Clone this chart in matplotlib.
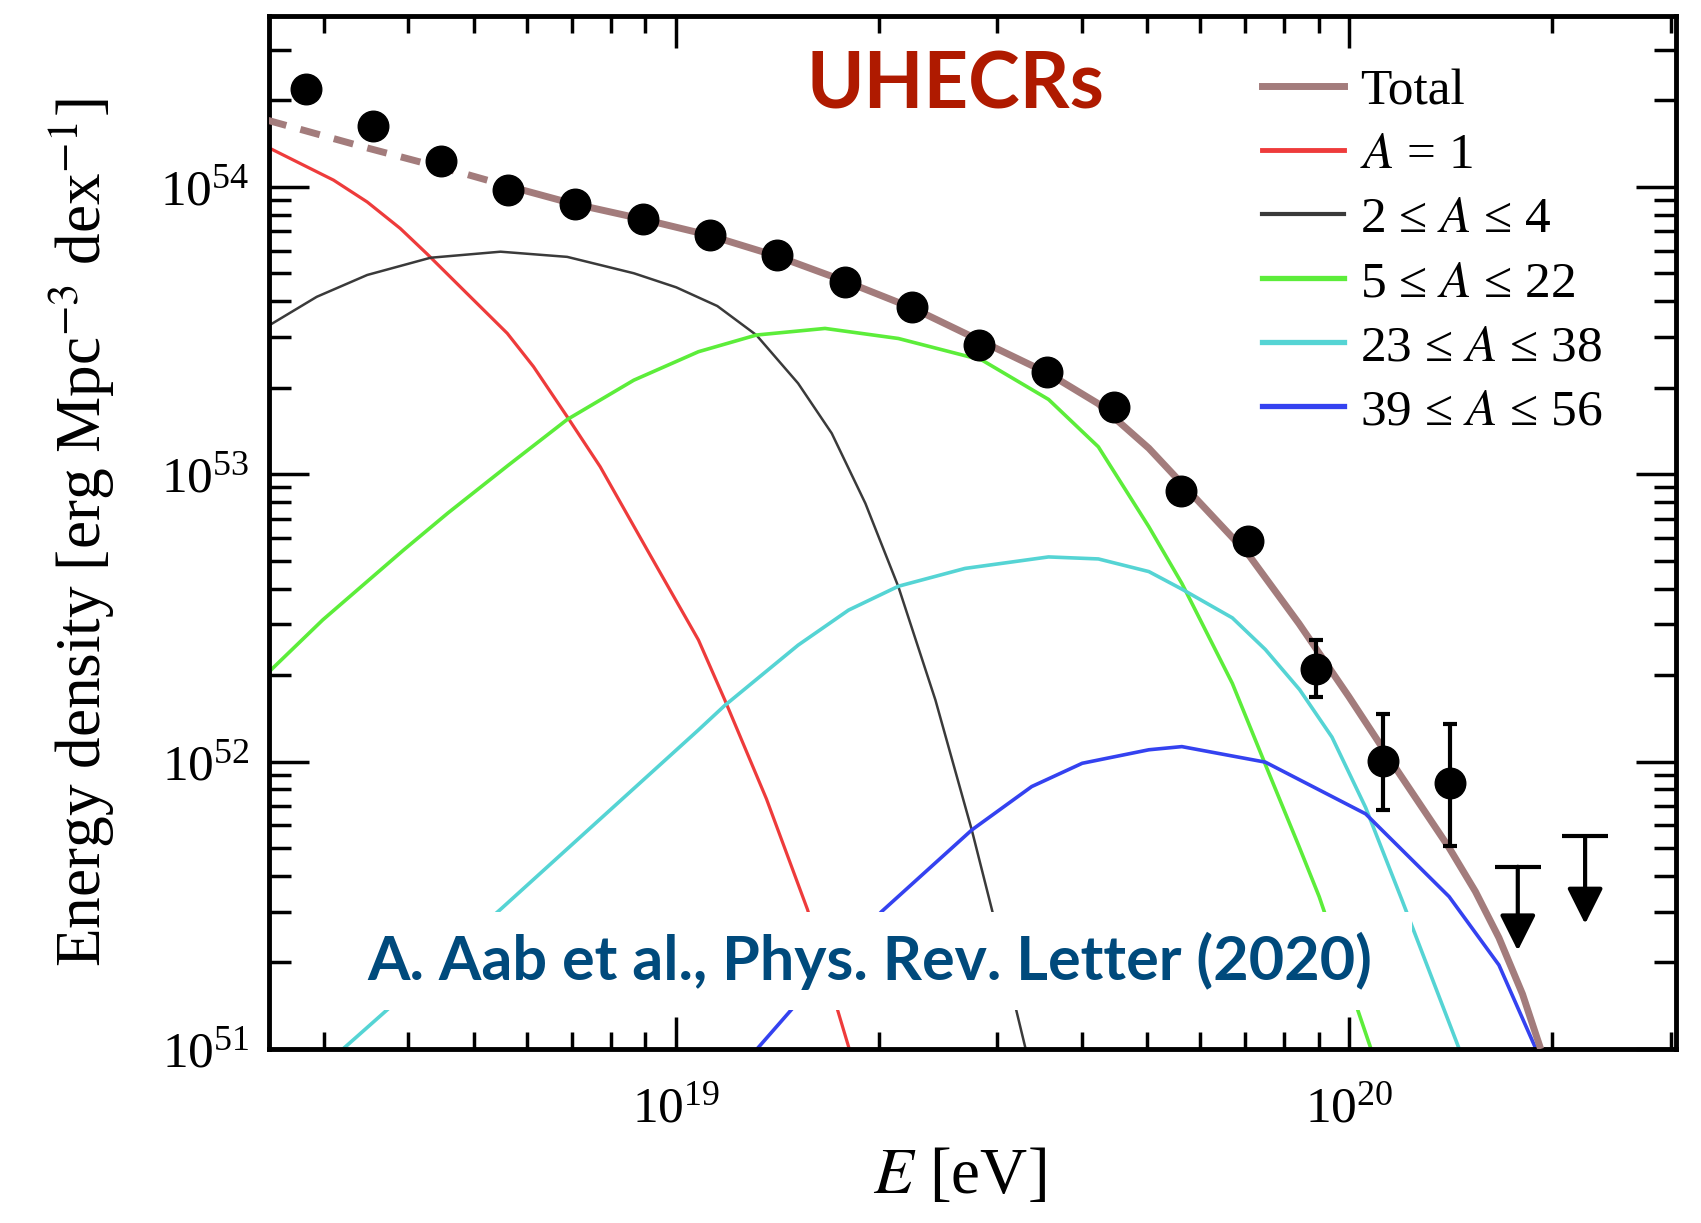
import numpy as np
import matplotlib
matplotlib.use("Agg")
import matplotlib.pyplot as plt
from matplotlib.lines import Line2D
from matplotlib.patches import Rectangle

# values are log10(E / eV) and log10(energy density / erg Mpc^-3 dex^-1)
data_logE = [18.45, 18.55, 18.65, 18.75, 18.85, 18.95, 19.05, 19.15, 19.25,
             19.35, 19.45, 19.55, 19.65, 19.75, 19.85, 19.95, 20.05, 20.15]
data_logU = [54.340, 54.212, 54.088, 53.989, 53.941, 53.889, 53.831, 53.762, 53.669,
             53.582, 53.449, 53.356, 53.232, 52.942, 52.768, 52.323, 52.002, 51.926]
err_logE = [19.95, 20.05, 20.15]
err_hi = [52.423, 52.166, 52.130]
err_lo = [52.224, 51.830, 51.706]
ul_logE = [20.25, 20.35]
ul_cap = [51.634, 51.740]
ul_tip = [51.342, 51.435]

total_logE = [18.392, 18.541, 18.689, 18.746, 18.845, 18.947, 19.046, 19.149, 19.250, 19.352,
              19.452, 19.553, 19.627, 19.702, 19.776, 19.850, 19.925, 19.999, 20.073, 20.148,
              20.187, 20.222, 20.257, 20.284]
total_logU = [54.232, 54.135, 54.043, 54.005, 53.942, 53.889, 53.833, 53.759, 53.672, 53.577,
              53.464, 53.350, 53.245, 53.090, 52.905, 52.720, 52.480, 52.226, 51.962, 51.700,
              51.548, 51.387, 51.191, 51.000]
n_dashed = 4  # the total is dashed below the fitted range

a1_logE = [18.397, 18.491, 18.541, 18.590, 18.630, 18.689, 18.749, 18.788, 18.838, 18.887,
           18.957, 19.033, 19.072, 19.134, 19.195, 19.257]
a1_logU = [54.133, 54.023, 53.947, 53.855, 53.766, 53.629, 53.490, 53.374, 53.200, 53.026,
           52.736, 52.423, 52.215, 51.870, 51.485, 51.0]

he_logE = [18.392, 18.466, 18.541, 18.635, 18.739, 18.838, 18.937, 19.000, 19.061, 19.119,
           19.181, 19.231, 19.281, 19.330, 19.385, 19.439, 19.469, 19.519]
he_logU = [53.513, 53.617, 53.693, 53.753, 53.774, 53.756, 53.699, 53.650, 53.585, 53.484,
           53.316, 53.142, 52.898, 52.608, 52.214, 51.762, 51.484, 51.0]

cno_logE = [18.395, 18.475, 18.595, 18.661, 18.750, 18.838, 18.937, 19.033, 19.119, 19.221,
            19.330, 19.454, 19.553, 19.627, 19.702, 19.751, 19.826, 19.875, 19.925, 19.955,
            20.032]
cno_logU = [52.312, 52.493, 52.736, 52.865, 53.030, 53.190, 53.327, 53.426, 53.484, 53.507,
            53.472, 53.397, 53.260, 53.095, 52.817, 52.620, 52.272, 51.990, 51.705, 51.530,
            51.0]

si_logE = [18.505, 18.741, 19.033, 19.072, 19.181, 19.256, 19.330, 19.429, 19.553, 19.627,
           19.702, 19.751, 19.826, 19.875, 19.926, 19.974, 20.024, 20.078, 20.163]
si_logU = [51.0, 51.490, 52.110, 52.195, 52.405, 52.527, 52.610, 52.672, 52.712, 52.705,
           52.661, 52.600, 52.500, 52.390, 52.250, 52.085, 51.840, 51.518, 51.0]

fe_logE = [19.120, 19.176, 19.305, 19.439, 19.528, 19.603, 19.702, 19.751, 19.875, 20.024,
           20.148, 20.222, 20.277]
fe_logU = [51.0, 51.150, 51.478, 51.762, 51.913, 51.994, 52.041, 52.052, 51.998, 51.818,
           51.530, 51.292, 51.0]

comp_labels = ['$A$ = 1', '2 \u2264 $A$ \u2264 4', '5 \u2264 $A$ \u2264 22',
               '23 \u2264 $A$ \u2264 38', '39 \u2264 $A$ \u2264 56']
comp_colors = ['#ee3b3b', '#3a3a3a', '#5ced3a', '#55d4d4', '#3442f0']
comp_widths = [2.3, 1.8, 2.6, 2.6, 2.6]
total_color = '#a37c7c'

plt.rcParams['font.family'] = ['Liberation Serif', 'DejaVu Serif']
plt.rcParams['mathtext.fontset'] = 'stix'

fig = plt.figure(figsize=(17.01, 12.23), dpi=100)
ax = fig.add_axes([0.1581, 0.1423, 0.8272, 0.8446])


def p10(v):
    return 10.0 ** np.asarray(v)


curves = [(a1_logE, a1_logU), (he_logE, he_logU), (cno_logE, cno_logU),
          (si_logE, si_logU), (fe_logE, fe_logU)]
handles = []
for (lx, ly), lab, col, lw in zip(curves, comp_labels, comp_colors, comp_widths):
    ax.plot(p10(lx), p10(ly), color=col, lw=lw, zorder=2, solid_joinstyle='round')
    handles.append(Line2D([], [], color=col, lw=lw + 1.2, label=lab))

# total: dashed part then solid part
ax.plot(p10(total_logE[:n_dashed]), p10(total_logU[:n_dashed]), color=total_color,
        lw=5.0, ls=(0, (2.9, 2.1)), zorder=3)
ax.plot(p10(total_logE[n_dashed - 1:]), p10(total_logU[n_dashed - 1:]), color=total_color,
        lw=5.0, zorder=3, solid_capstyle='butt', solid_joinstyle='round')
handles.insert(0, Line2D([], [], color=total_color, lw=5.0, label='Total'))

# data
ax.plot(p10(data_logE), p10(data_logU), 'o', color='black', ms=22, zorder=5)
ex = p10(err_logE)
ey = p10(data_logU[-3:])
ax.errorbar(ex, ey, yerr=[ey - p10(err_lo), p10(err_hi) - ey], fmt='none',
            ecolor='black', elinewidth=3, capsize=5, capthick=3, zorder=5)
for e, c, t in zip(ul_logE, ul_cap, ul_tip):
    ax.plot([10 ** e], [10 ** c], marker='_', ms=33, mew=3, color='black', zorder=5)
    ax.annotate('', xy=(10 ** e, 10 ** t), xytext=(10 ** e, 10 ** c),
                arrowprops=dict(arrowstyle='-|>', color='black', lw=3,
                                mutation_scale=55, shrinkA=0, shrinkB=0), zorder=5)

ax.set_xscale('log')
ax.set_yscale('log')
ax.set_xlim(10 ** 18.395, 10 ** 20.485)
ax.set_ylim(1e51, 10 ** 54.594)

for side in ax.spines.values():
    side.set_linewidth(3.5)
ax.tick_params(which='both', direction='in', top=True, right=True, width=2.5)
ax.tick_params(axis='x', which='major', length=23, pad=27, labelsize=37)
ax.tick_params(axis='x', which='minor', length=12)
ax.tick_params(axis='y', which='major', length=29, pad=14, labelsize=37)
ax.tick_params(axis='y', which='minor', length=15.5)
ax.set_xticks([1e19, 1e20])
ax.set_yticks([1e51, 1e52, 1e53, 1e54])

ax.set_xlabel('$E$ [eV]', fontsize=47, labelpad=16)
ax.xaxis.set_label_coords(0.491, -0.095)
ax.set_ylabel('Energy density [erg Mpc$^{-3}$ dex$^{-1}$]', fontsize=45.5, labelpad=31)

ax.legend(handles=handles, loc='upper left', bbox_to_anchor=(0.742, 0.944),
          bbox_transform=fig.transFigure, frameon=False, fontsize=37,
          handlelength=1.6, handletextpad=0.3, labelspacing=0.33,
          borderpad=0, borderaxespad=0)

fig.text(0.5615, 0.929, 'UHECRs', fontsize=56, fontweight='bold', family='Lato',
         color='#af1a00', ha='center', va='center')

fig.patches.append(Rectangle((0.204, 0.174), 0.626, 0.080, transform=fig.transFigure,
                             facecolor='white', edgecolor='none', zorder=10))
fig.text(0.5115, 0.214, 'A. Aab et al., Phys. Rev. Letter (2020)', fontsize=44,
         fontweight='bold', family='Lato', color='#004a7c', ha='center', va='center',
         zorder=11)

fig.savefig('out.png', dpi=100)
